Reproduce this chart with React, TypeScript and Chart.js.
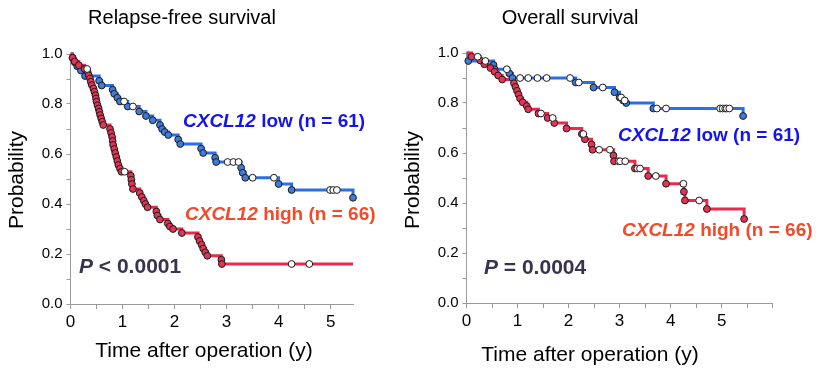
import React, { useEffect, useRef } from 'react';
import { Chart, registerables } from 'chart.js';
Chart.register(...registerables);

// ---------- Relapse-free survival ----------
const rfsLowEventT = [0.04, 0.08, 0.13, 0.2, 0.28, 0.55, 0.6, 0.81, 0.84, 0.9, 0.95, 1.1, 1.32, 1.45, 1.58, 1.72, 1.76, 1.81, 1.88, 2.07, 2.11, 2.51, 2.55, 2.78, 2.8, 3.28, 3.31, 3.36, 4.0, 4.25, 5.43];
const rfsLowEventS = [0.984, 0.967, 0.951, 0.934, 0.912, 0.893, 0.874, 0.857, 0.841, 0.825, 0.81, 0.79, 0.77, 0.752, 0.735, 0.716, 0.7, 0.688, 0.676, 0.658, 0.64, 0.622, 0.604, 0.585, 0.568, 0.545, 0.525, 0.505, 0.48, 0.456, 0.425];
const rfsLowCensT = [1.03, 1.2, 3.02, 3.13, 3.23, 3.5, 3.91, 4.99, 5.05, 5.12];
const rfsLowCensS = [0.81, 0.79, 0.568, 0.568, 0.568, 0.505, 0.505, 0.456, 0.456, 0.456];
const rfsLowEnd = 5.43;

const rfsHighEventT = [0.04, 0.08, 0.16, 0.27, 0.33, 0.35, 0.375, 0.39, 0.41, 0.44, 0.46, 0.48, 0.49, 0.5, 0.52, 0.54, 0.555, 0.57, 0.59, 0.61, 0.63, 0.76, 0.78, 0.8, 0.81, 0.82, 0.84, 0.86, 0.88, 0.9, 0.92, 0.95, 0.98, 1.16, 1.17, 1.18, 1.2, 1.33, 1.37, 1.41, 1.44, 1.48, 1.65, 1.67, 1.72, 1.87, 1.91, 1.97, 2.14, 2.45, 2.48, 2.52, 2.55, 2.59, 2.63, 2.9, 2.91];
const rfsHighEventS = [0.985, 0.97, 0.955, 0.94, 0.928, 0.915, 0.902, 0.889, 0.876, 0.862, 0.849, 0.835, 0.822, 0.809, 0.795, 0.782, 0.769, 0.756, 0.742, 0.729, 0.716, 0.7, 0.684, 0.668, 0.652, 0.636, 0.62, 0.604, 0.588, 0.572, 0.556, 0.542, 0.529, 0.513, 0.497, 0.48, 0.46, 0.444, 0.428, 0.413, 0.4, 0.387, 0.37, 0.354, 0.338, 0.322, 0.31, 0.3, 0.284, 0.268, 0.252, 0.237, 0.222, 0.207, 0.193, 0.177, 0.16];
const rfsHighCensT = [0.32, 1.04, 4.25, 4.59];
const rfsHighCensS = [0.94, 0.529, 0.16, 0.16];
const rfsHighEnd = 5.43;

// ---------- Overall survival ----------
const osLowEventT = [0.035, 0.53, 0.55, 0.84, 0.9, 2.14, 2.49, 2.9, 3.0, 3.07, 3.13, 3.66, 5.42];
const osLowEventS = [0.968, 0.952, 0.935, 0.918, 0.9, 0.882, 0.862, 0.843, 0.822, 0.81, 0.8, 0.778, 0.748];
const osLowCensT = [0.37, 0.79, 1.05, 1.21, 1.39, 1.57, 2.03, 2.2, 2.67, 3.03, 3.1, 3.73, 3.91, 4.97, 5.02, 5.07, 5.1, 5.15];
const osLowCensS = [0.968, 0.935, 0.9, 0.9, 0.9, 0.9, 0.9, 0.882, 0.862, 0.822, 0.81, 0.778, 0.778, 0.778, 0.778, 0.778, 0.778, 0.778];
const osLowEnd = 5.42;

const osHighEventT = [0.1, 0.27, 0.35, 0.47, 0.55, 0.62, 0.7, 0.93, 0.96, 0.99, 1.02, 1.05, 1.1, 1.18, 1.21, 1.41, 1.59, 1.72, 1.96, 2.26, 2.32, 2.45, 2.47, 2.88, 2.89, 3.3, 3.56, 3.91, 4.26, 4.28, 4.71, 5.44];
const osHighEventS = [0.985, 0.97, 0.955, 0.94, 0.925, 0.91, 0.894, 0.879, 0.864, 0.849, 0.834, 0.818, 0.803, 0.788, 0.775, 0.758, 0.74, 0.72, 0.698, 0.676, 0.655, 0.634, 0.613, 0.59, 0.567, 0.538, 0.508, 0.477, 0.445, 0.41, 0.376, 0.336];
const osHighCensT = [0.22, 1.46, 1.69, 2.29, 2.6, 2.81, 2.98, 3.01, 3.11, 3.35, 3.4, 3.71, 4.25, 4.56];
const osHighCensS = [0.985, 0.758, 0.74, 0.676, 0.613, 0.613, 0.567, 0.567, 0.567, 0.538, 0.538, 0.508, 0.477, 0.41];
const osHighEnd = 5.44;

const xTickLabels = ['0', '1', '2', '3', '4', '5'];
const yTickLabels = ['0.0', '0.2', '0.4', '0.6', '0.8', '1.0'];

const FONT = 'Arial, "Liberation Sans", Helvetica, sans-serif';
const BLUE_LINE = '#2c6fe4';
const RED_LINE = '#e82a4c';
const BLUE_FILL = '#3f7bd9';
const RED_FILL = '#e23454';
const BLUE_TEXT = '#1414f0';
const RED_TEXT = '#f24a2a';
const P_TEXT = '#3a3350';
const AXIS = '#9a9a9a';

type Part = { t: string; italic?: boolean };
type Label = { parts: Part[]; x: number; y: number; size: number; bold?: boolean; color: string; rotate?: boolean; center?: boolean };

const pts = (t: number[], s: number[]) => t.map((v, i) => ({ x: v, y: s[i] }));
const stepLine = (t: number[], s: number[], end: number) => {
  const d = [{ x: 0, y: 1 }, ...pts(t, s)];
  const last = d[d.length - 1];
  if (last.x < end) d.push({ x: end, y: last.y });
  return d;
};

function makeConfig(o: any) {
  const labelPlugin = {
    id: 'texts',
    afterDraw(chart: any) {
      const ctx = chart.ctx;
      ctx.save();
      ctx.textBaseline = 'middle';
      ctx.textAlign = 'left';
      for (const l of o.labels as Label[]) {
        const fontFor = (p: Part) => `${p.italic ? 'italic ' : ''}${l.bold ? 'bold ' : ''}${l.size}px ${FONT}`;
        let total = 0;
        for (const p of l.parts) { ctx.font = fontFor(p); total += ctx.measureText(p.t).width; }
        ctx.save();
        ctx.translate(l.x, l.y);
        if (l.rotate) ctx.rotate(-Math.PI / 2);
        let x = l.center ? -total / 2 : 0;
        ctx.fillStyle = l.color;
        for (const p of l.parts) { ctx.font = fontFor(p); ctx.fillText(p.t, x, 0); x += ctx.measureText(p.t).width; }
        ctx.restore();
      }
      ctx.restore();
    },
  };
  const marker = (data: any, fill: string, order: number) => ({
    data, showLine: false, pointRadius: 3.4, pointHoverRadius: 3.4, pointBackgroundColor: fill,
    pointBorderColor: '#1a1a1a', pointBorderWidth: 1, order, clip: false,
  });
  const line = (data: any, color: string, order: number) => ({
    data, showLine: true, stepped: 'before', borderColor: color, borderWidth: 3, pointRadius: 0, order, clip: false,
  });
  return {
    type: 'scatter',
    data: {
      datasets: [
        line(stepLine(o.low.et, o.low.es, o.low.end), BLUE_LINE, 5),
        line(stepLine(o.high.et, o.high.es, o.high.end), RED_LINE, 4),
        marker(pts(o.low.et, o.low.es), BLUE_FILL, 3),
        marker(pts(o.high.et, o.high.es), RED_FILL, 2),
        marker(pts(o.low.ct, o.low.cs), '#ffffff', 1),
        marker(pts(o.high.ct, o.high.cs), '#ffffff', 0),
      ],
    },
    options: {
      animation: false,
      responsive: false,
      events: [],
      layout: { padding: { top: o.top, right: o.right, left: 0, bottom: 0 } },
      plugins: { legend: { display: false }, tooltip: { enabled: false }, title: { display: false } },
      scales: {
        x: {
          type: 'linear', min: 0, max: o.xMax,
          afterFit: (s: any) => { s.height = o.bottomH; },
          border: { display: true, color: AXIS, width: 1 },
          grid: { drawOnChartArea: false, drawTicks: true, tickLength: 5, tickColor: AXIS },
          ticks: {
            stepSize: 0.5, includeBounds: false, autoSkip: false, maxRotation: 0, padding: 3,
            color: '#000', font: { family: FONT, size: 17 },
            callback: (v: number) => {
              const r = Math.round(v);
              return Math.abs(v - r) < 1e-6 && r < xTickLabels.length ? xTickLabels[r] : '';
            },
          },
        },
        y: {
          type: 'linear', min: 0, max: 1,
          afterFit: (s: any) => { s.width = o.left; },
          border: { display: true, color: AXIS, width: 1 },
          grid: { drawOnChartArea: false, drawTicks: true, tickLength: 4, tickColor: AXIS },
          ticks: {
            stepSize: 0.1, autoSkip: false, padding: 4, color: '#000', font: { family: FONT, size: 15 },
            callback: (v: number) => {
              const k = Math.round(v * 10);
              return k % 2 === 0 ? yTickLabels[k / 2] : '';
            },
          },
        },
      },
    },
    plugins: [labelPlugin],
  };
}

const leftOpts = {
  low: { et: rfsLowEventT, es: rfsLowEventS, ct: rfsLowCensT, cs: rfsLowCensS, end: rfsLowEnd },
  high: { et: rfsHighEventT, es: rfsHighEventS, ct: rfsHighCensT, cs: rfsHighCensS, end: rfsHighEnd },
  xMax: 5.43, top: 54, right: 47, left: 70.5, bottomH: 65,
  labels: [
    { parts: [{ t: 'Relapse-free survival' }], x: 182, y: 18, size: 20, color: '#000', center: true },
    { parts: [{ t: 'Time after operation (y)' }], x: 204, y: 351, size: 21, color: '#000', center: true },
    { parts: [{ t: 'Probability' }], x: 17, y: 180, size: 21, color: '#000', center: true, rotate: true },
    { parts: [{ t: 'CXCL12', italic: true }, { t: ' low (n = 61)' }], x: 183, y: 122, size: 19, bold: true, color: BLUE_TEXT },
    { parts: [{ t: 'CXCL12', italic: true }, { t: ' high (n = 66)' }], x: 185, y: 215, size: 19, bold: true, color: RED_TEXT },
    { parts: [{ t: 'P', italic: true }, { t: ' < 0.0001' }], x: 79, y: 267, size: 21, bold: true, color: P_TEXT },
  ],
};

const rightOpts = {
  low: { et: osLowEventT, es: osLowEventS, ct: osLowCensT, cs: osLowCensS, end: osLowEnd },
  high: { et: osHighEventT, es: osHighEventS, ct: osHighCensT, cs: osHighCensS, end: osHighEnd },
  xMax: 6, top: 53, right: 45.3, left: 66.5, bottomH: 66,
  labels: [
    { parts: [{ t: 'Overall survival' }], x: 170, y: 18, size: 20, color: '#000', center: true },
    { parts: [{ t: 'Time after operation (y)' }], x: 190, y: 355, size: 21, color: '#000', center: true },
    { parts: [{ t: 'Probability' }], x: 13, y: 180, size: 21, color: '#000', center: true, rotate: true },
    { parts: [{ t: 'CXCL12', italic: true }, { t: ' low (n = 61)' }], x: 218, y: 136, size: 19, bold: true, color: BLUE_TEXT },
    { parts: [{ t: 'CXCL12', italic: true }, { t: ' high (n = 66)' }], x: 222, y: 231, size: 19, bold: true, color: RED_TEXT },
    { parts: [{ t: 'P', italic: true }, { t: ' = 0.0004' }], x: 84, y: 268, size: 21, bold: true, color: P_TEXT },
  ],
};

function KMChart({ opts, left, width }: { opts: any; left: number; width: number }) {
  const ref = useRef<HTMLCanvasElement>(null);
  useEffect(() => {
    const chart = new Chart(ref.current as HTMLCanvasElement, makeConfig(opts) as any);
    return () => chart.destroy();
  }, [opts]);
  return (
    <canvas ref={ref} width={width} height={369}
      style={{ position: 'absolute', left, top: 0, width, height: 369, display: 'block' }} />
  );
}

export default function App() {
  return (
    <div style={{ position: 'fixed', left: 0, top: 0, width: 818, height: 369, background: '#fff', overflow: 'hidden' }}>
      <KMChart opts={leftOpts} left={0} width={400} />
      <KMChart opts={rightOpts} left={400} width={418} />
    </div>
  );
}
